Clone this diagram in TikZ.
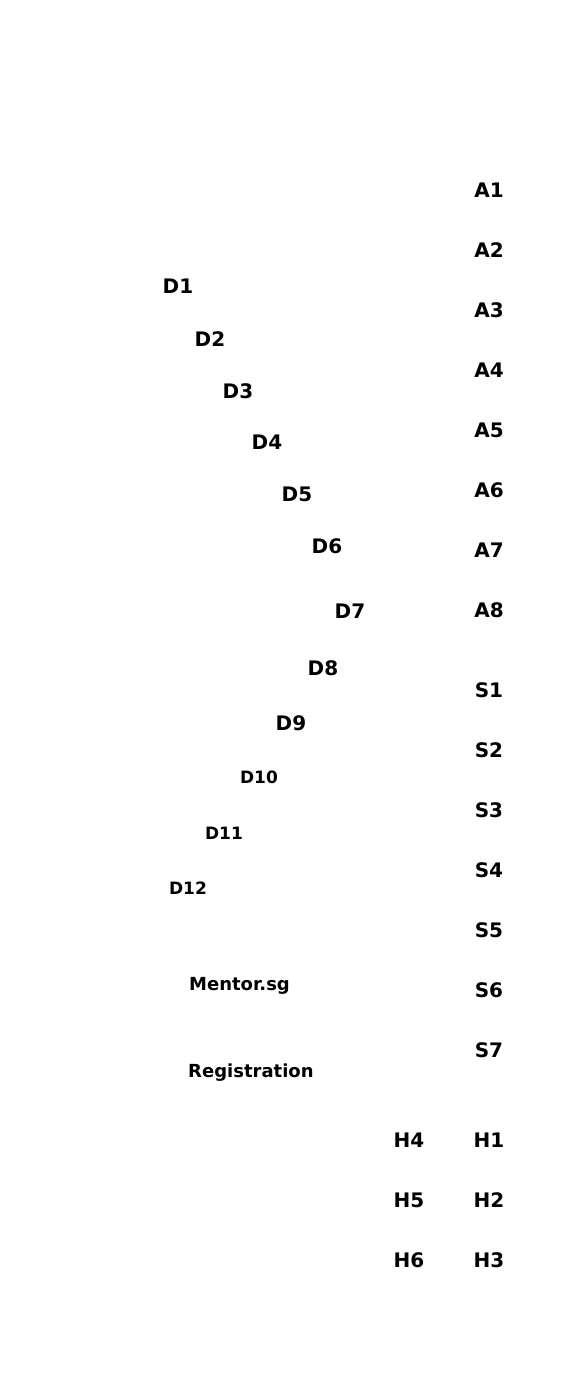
\documentclass[tikz,border=0pt]{standalone}
\usepackage{fontspec}
\setmainfont{DejaVu Sans}
\usepackage{tikz}

\tikzset{
  lbl/.style={font=\bfseries\fontsize{20}{24}\selectfont, inner sep=0pt},
  small lbl/.style={font=\bfseries\fontsize{17}{20}\selectfont, inner sep=0pt},
  word lbl/.style={font=\bfseries\fontsize{18}{22}\selectfont, inner sep=0pt}
}

\begin{document}
\begin{tikzpicture}[x=1pt,y=-1pt]
  \useasboundingbox (0,0) rectangle (585,1400);
  \foreach \i in {1,...,8} {  %right column, first block
    \node[lbl] (A\i) at (489,130+60*\i) {A\i};
  }
  \foreach \i in {1,...,7} {  %right column, second block
    \node[lbl] (S\i) at (489,630+60*\i) {S\i};
  }
  \foreach \i in {1,2,3} {  %bottom rows
    \node[lbl] (H\i) at (489,1080+60*\i) {H\i};
  }
  \foreach \i/\j in {4/1,5/2,6/3} {
    \node[lbl] (H\i) at (409,1080+60*\j) {H\i};
  }
  \foreach \n/\x/\y in {1/178/286, 2/210/339, 3/238/391, 4/267/442, 5/297/494, 6/327/546, 7/350/611, 8/323/668, 9/291/723} {  %the bent line of D's
    \node[lbl] (D\n) at (\x,\y) {D\n};
  }
  \foreach \n/\x/\y in {10/259/777, 11/224/833, 12/188/888} {
    \node[small lbl] (D\n) at (\x,\y) {D\n};
  }
  \node[word lbl, anchor=west] (mentor) at (189,986) {Mentor.sg};
  \node[word lbl, anchor=west] (reg) at (188,1073) {Registration};
\end{tikzpicture}
\end{document}
